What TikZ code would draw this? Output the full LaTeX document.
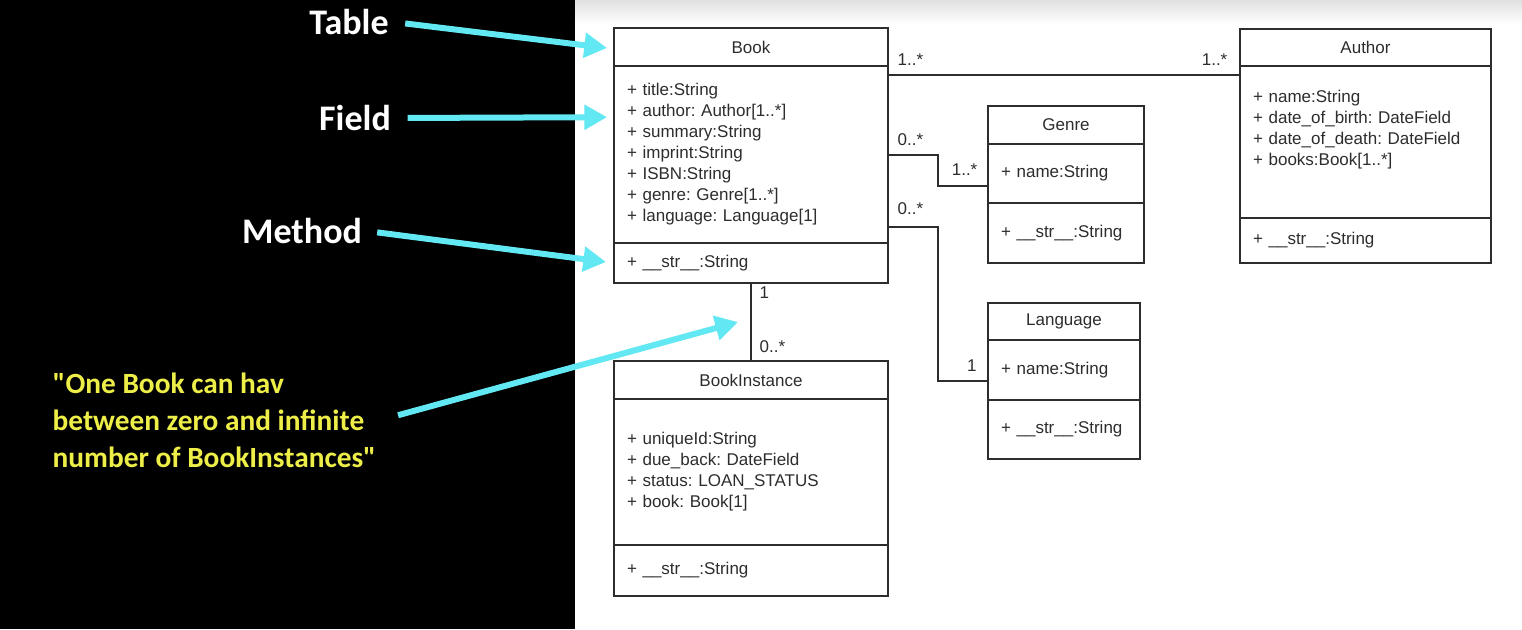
\documentclass[tikz,border=0pt]{standalone}
\usepackage{fontspec}
\setmainfont{Liberation Sans}
\newfontfamily\calibri{Carlito}
\usepackage{tikz}
\usetikzlibrary{positioning, arrows.meta}
\definecolor{cya}{RGB}{98,232,242}
\definecolor{yel}{RGB}{238,238,72}
\definecolor{umlgray}{RGB}{45,45,45}
\tikzstyle{classhead} = [rectangle, draw=umlgray, line width=1pt, outer sep=0pt, inner sep=0pt, text centered, text=umlgray, font=\fontsize{12.75pt}{15.75pt}\selectfont]
\tikzstyle{classpart} = [rectangle, draw=umlgray, line width=1pt, outer sep=0pt, inner xsep=9.75pt, inner ysep=0pt, align=left, text=umlgray, font=\fontsize{12.75pt}{15.75pt}\selectfont]
\tikzstyle{mult} = [inner sep=0pt, text=umlgray, font=\fontsize{12.75pt}{14pt}\selectfont]
\tikzstyle{assoc} = [draw=umlgray, line width=1pt]
\tikzstyle{tag} = [text=white, font=\calibri\bfseries\fontsize{27pt}{30pt}\selectfont]
\tikzstyle{note} = [text=yel, align=left, font=\calibri\bfseries\fontsize{22pt}{27.75pt}\selectfont]
\tikzstyle{arrow} = [cya, line width=4.5pt, -{Triangle[length=17pt, width=18pt]}]
\frenchspacing

\begin{document}
\begin{tikzpicture}[x=0.75pt, y=-0.75pt]
  \useasboundingbox (0,0) rectangle (1522,629);
  \fill[black] (0,0) rectangle (575,629);
  \fill[white] (575,0) rectangle (1522,629);
  \shade[top color=black!12, bottom color=white] (575,0) rectangle (1522,24);

  % Book
  \node (bookh) [classhead, minimum width=205.5pt, minimum height=28.5pt, anchor=north west] at (614,28) {Book};
  \node (bookf) [classpart, text width=186pt, minimum height=132.75pt, below=0pt of bookh] {+ title:String\\+ author: Author[1..*]\\+ summary:String\\+ imprint:String\\+ ISBN:String\\+ genre: Genre[1..*]\\+ language: Language[1]};
  \node (bookm) [classpart, text width=186pt, minimum height=30pt, below=0pt of bookf] {+ \_\_str\_\_:String};

  % Author
  \node (authorh) [classhead, minimum width=188.25pt, minimum height=27.75pt, anchor=north west] at (1240,29) {Author};
  \node (authorf) [classpart, text width=168.75pt, minimum height=114pt, text depth=69pt, below=0pt of authorh] {+ name:String\\+ date\_of\_birth: DateField\\+ date\_of\_death: DateField\\+ books:Book[1..*]};
  \node (authorm) [classpart, text width=168.75pt, minimum height=33.75pt, below=0pt of authorf] {+ \_\_str\_\_:String};

  % Genre
  \node (genreh) [classhead, minimum width=117pt, minimum height=28.5pt, anchor=north west] at (988,106) {Genre};
  \node (genref) [classpart, text width=97.5pt, minimum height=44.25pt, below=0pt of genreh] {+ name:String};
  \node (genrem) [classpart, text width=97.5pt, minimum height=45pt, below=0pt of genref] {+ \_\_str\_\_:String};

  % Language
  \node (langh) [classhead, minimum width=114pt, minimum height=27.75pt, anchor=north west] at (988,303) {Language};
  \node (langf) [classpart, text width=94.5pt, minimum height=45pt, below=0pt of langh] {+ name:String};
  \node (langm) [classpart, text width=94.5pt, minimum height=44.25pt, below=0pt of langf] {+ \_\_str\_\_:String};

  % BookInstance
  \node (insth) [classhead, minimum width=205.5pt, minimum height=28.5pt, anchor=north west] at (614,361) {BookInstance};
  \node (instf) [classpart, text width=186pt, minimum height=109.5pt, below=0pt of insth] {+ uniqueId:String\\+ due\_back: DateField\\+ status: LOAN\_STATUS\\+ book: Book[1]};
  \node (instm) [classpart, text width=186pt, minimum height=38.25pt, below=0pt of instf] {+ \_\_str\_\_:String};

  % associations
  \draw [assoc] ([yshift=-6.75pt]bookf.north east) -- node[mult, pos=0, anchor=south west, xshift=6.75pt, yshift=6.4pt] (m1) {1..*} node[mult, pos=1, anchor=south east, xshift=-9pt, yshift=6.4pt] (m2) {1..*} ([yshift=-6.75pt]authorf.north west);
  \draw [assoc] ([yshift=-66.75pt]bookf.north east) -- node[mult, pos=0, anchor=south west, xshift=6.75pt, yshift=6.4pt] (m3) {0..*} ++(50,0) |- node[mult, pos=1, anchor=south east, xshift=-7.5pt, yshift=7.5pt] (m4) {1..*} ([yshift=-31.5pt]genref.north west);
  \draw [assoc] ([yshift=-120.75pt]bookf.north east) -- node[mult, pos=0, anchor=south west, xshift=6.75pt, yshift=8.6pt] (m5) {0..*} ++(50,0) |- node[mult, pos=1, anchor=south east, xshift=-8pt, yshift=7pt] (m6) {1} ([yshift=-30.75pt]langf.north west);
  \draw [assoc] (bookm.south) -- node[mult, pos=0, anchor=north west, xshift=6pt, yshift=-2.5pt] (m7) {1} node[mult, pos=1, anchor=south west, xshift=6pt, yshift=5.6pt] (m8) {0..*} (insth.north);

  % annotations
  \node (table) [tag] at (349,22) {Table};
  \node (field) [tag] at (355,118) {Field};
  \node (method) [tag] at (302,231) {Method};
  \node (note) [note, anchor=west] at (48,420) {"One Book can hav\\between zero and infinite\\number of BookInstances"};
  \coordinate (linktip) at (738,322);

  \draw [arrow, shorten <=9pt] (table.east) -- ([xshift=-5.25pt, yshift=-0.75pt]bookh.west);
  \draw [arrow, shorten <=9pt] (field.east) -- ([xshift=-5.25pt, yshift=28pt]bookf.west);
  \draw [arrow, shorten <=8pt] (method.east) -- ([xshift=-6pt, yshift=0.75pt]bookm.west);
  \draw [arrow, shorten <=13.5pt] (note.east) -- (linktip);
\end{tikzpicture}
\end{document}
